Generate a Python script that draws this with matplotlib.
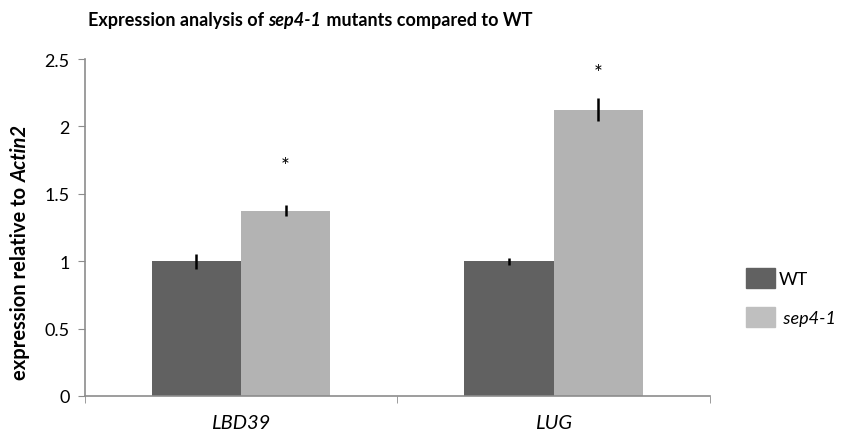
import matplotlib
matplotlib.use("Agg")
from matplotlib import pyplot as plt
from matplotlib.patches import Patch

plt.rcParams["font.family"] = ["Lato", "DejaVu Sans"]

genes = ["LBD39", "LUG"]
wt_mean = [1.0, 1.0]
wt_err = [0.055, 0.025]
mut_mean = [1.375, 2.125]
mut_err = [0.04, 0.085]
star_y = [1.71, 2.40]
yticks = [0, 0.5, 1, 1.5, 2, 2.5]
ytick_labels = ["0", "0.5", "1", "1.5", "2", "2.5"]

wt_color = "#616161"
mut_color = "#b3b3b3"
axis_color = "#8c8c8c"

fig = plt.figure(figsize=(8.47, 4.39), dpi=100)
ax = fig.add_axes([0.1, 0.096, 0.738, 0.767])

x = list(range(len(genes)))
w = 0.285
ax.bar([i - w / 2 for i in x], wt_mean, width=w, color=wt_color)
ax.bar([i + w / 2 for i in x], mut_mean, width=w, color=mut_color)
ax.errorbar([i - w / 2 for i in x], wt_mean, yerr=wt_err, fmt="none",
            ecolor="black", elinewidth=1.8, capsize=0)
ax.errorbar([i + w / 2 for i in x], mut_mean, yerr=mut_err, fmt="none",
            ecolor="black", elinewidth=1.8, capsize=0)
for i, sy in zip(x, star_y):
    ax.text(i + w / 2, sy, "*", ha="center", va="center", fontsize=15)

ax.set_xlim(-0.5, len(genes) - 0.5)
ax.set_ylim(0, 2.5)
ax.set_yticks(yticks)
ax.set_yticklabels(ytick_labels, fontsize=13)
ax.set_xticks(x)
ax.set_xticklabels(genes, fontsize=14.5, fontstyle="italic")
ax.set_xticks([-0.5, 0.5, 1.5], minor=True)
ax.tick_params(axis="x", which="major", length=0, pad=13)
ax.tick_params(axis="x", which="minor", length=5, color=axis_color, direction="out")
ax.tick_params(axis="y", length=5, color=axis_color, direction="out", pad=6)
for s in ["top", "right"]:
    ax.spines[s].set_visible(False)
for s in ["left", "bottom"]:
    ax.spines[s].set_color(axis_color)
    ax.spines[s].set_linewidth(1.2)

# title in pieces (italic mutant name)
t1 = fig.text(0.104, 0.934, "Expression analysis of ", fontsize=13,
              fontweight="bold", va="bottom")
t2 = ax.annotate("sep4-1", xy=(1, 0), xycoords=t1, fontsize=13,
                 fontweight="bold", fontstyle="italic", va="bottom", ha="left")
ax.annotate(" mutants compared to WT", xy=(1, 0), xycoords=t2, fontsize=13,
            fontweight="bold", va="bottom", ha="left")

# y label in pieces
y1 = fig.text(0.024, 0.36, "expression relative to ", fontsize=14.5,
              fontweight="bold", rotation=90, ha="center", va="center")
ax.annotate("Actin2", xy=(0, 1), xycoords=y1, fontsize=14.5, fontweight="bold",
            fontstyle="italic", rotation=90, ha="left", va="bottom")

handles = [Patch(color=wt_color), Patch(color="#bfbfbf")]
leg = fig.legend(handles, ["WT", " sep4-1"], loc="center left",
                 bbox_to_anchor=(0.862, 0.32), frameon=False, fontsize=13,
                 handlelength=1.6, handleheight=1.4, handletextpad=0.2,
                 labelspacing=1.0)
leg.get_texts()[1].set_fontstyle("italic")

plt.savefig("out.png", dpi=100)
